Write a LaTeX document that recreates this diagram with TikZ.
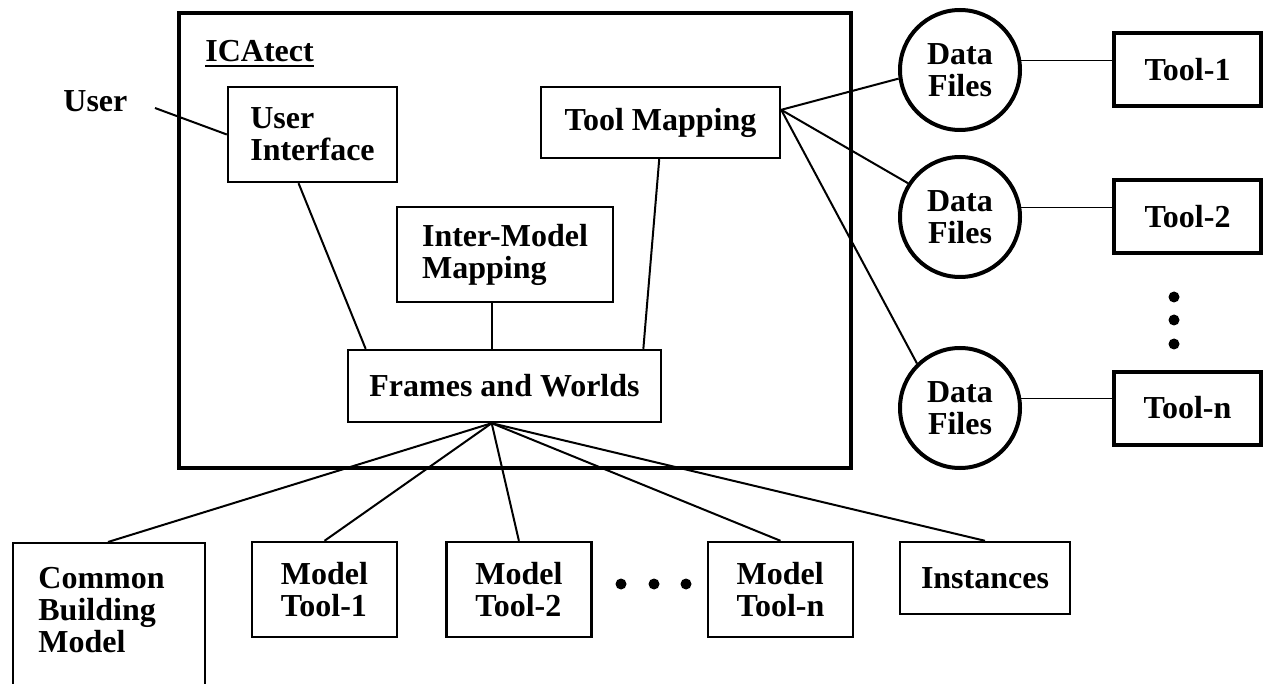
\documentclass[tikz,border=0pt]{standalone}
\usepackage{fontspec}
\setmainfont{Liberation Serif}
\usepackage{tikz}
\usetikzlibrary{positioning}
\tikzset{>=latex}
\tikzset{
  txt/.style={font=\fontsize{16}{16}\selectfont\bfseries},
  lbl/.style={txt, inner sep=0pt},
  box/.style={txt, draw, line width=1.2pt, inner sep=0pt, align=left},
  sysbox/.style={draw, line width=2.25pt, inner sep=0pt},
  modelbox/.style={box, minimum width=72.5pt, minimum height=47.5pt},
  toolbox/.style={box, line width=2pt, minimum width=73.5pt, minimum height=36.5pt},
  datafile/.style={txt, circle, draw, line width=2pt, minimum size=60pt, inner sep=0pt, align=center},
  link/.style={line width=1pt},
  thinlink/.style={line width=0.75pt},
  dot/.style={circle, fill, inner sep=0pt, minimum size=5.5pt},
}
\newcommand{\icaul}[1]{\vtop{\hbox{#1}\kern1.2pt\hrule height 1.3pt}}

\begin{document}
\begin{tikzpicture}[x=0.5pt,y=-0.5pt]
  \useasboundingbox (0,0) rectangle (1264,684);

  % ICAtect system
  \node[sysbox, minimum width=336pt, minimum height=227.5pt] (sys) at (515,240.5) {};
  \node[lbl, anchor=base west] (ica) at (205,62) {\icaul{ICAtect}};

  \node[lbl, anchor=base west]   (user) at (63,112) {User};
  \coordinate (userpt) at (155,108);

  \node[box, minimum width=84.5pt, minimum height=47.5pt]  (ui)  at (312.5,134.5) {User\\Interface};
  \node[box, minimum width=119.5pt, minimum height=35.5pt] (tm)  at (660.5,122.5) {Tool Mapping};
  \node[box, minimum width=108pt, minimum height=47.5pt]   (imm) at (505,254.5)   {Inter-Model\\Mapping};
  \node[box, minimum width=156.5pt, minimum height=36pt]   (fw)  at (504.5,386)   {Frames and Worlds};

  \coordinate (fwout) at (fw.251);
  \coordinate (tmout) at (tm.6);

  % Data files and tools
  \node[datafile] (df1) at (960,70)  {Data\\Files};
  \node[datafile] (df2) at (960,217) {Data\\Files};
  \node[datafile] (df3) at (960,408) {Data\\Files};

  \node[toolbox, right=45pt of df1] (t1) {Tool-1};
  \node[toolbox, right=45pt of df2] (t2) {Tool-2};
  \node[toolbox, right=45pt of df3] (tn) {Tool-n};

  \node[dot] (vd1) at (1174,297) {};
  \node[dot] (vd2) at (1174,320) {};
  \node[dot] (vd3) at (1174,344) {};

  % Models
  \node[box, anchor=north west, minimum width=96pt, minimum height=90pt] (cbm) at (12,542) {};
  \node[lbl, align=left, anchor=north west] (cbmtxt) at (38,567) {Common\\Building\\Model};
  \coordinate (cbmtop) at (108,542);

  \node[modelbox] (mt1) at (324.5,589.5) {Model\\Tool-1};
  \node[modelbox, right=23.5pt of mt1] (mt2) {Model\\Tool-2};
  \node[modelbox] (mtn) at (780.5,589.5) {Model\\Tool-n};
  \node[box, minimum width=85pt, minimum height=36pt] (inst) at (985,578) {Instances};

  \node[dot] (hd1) at (621,584) {};
  \node[dot] (hd2) at (654,584) {};
  \node[dot] (hd3) at (686,584) {};

  % Edges
  \draw[link] (userpt) -- (ui.west);
  \draw[link] (ui.254) -- (fw.165);
  \draw[link] (imm.south -| fwout) -- (fw.north -| fwout);
  \draw[link] (tm.268) -- (fw.15);

  \draw[link] (tmout) -- (df1.188);
  \draw[link] (tmout) -- (df2.147);
  \draw[link] (tmout) -- (df3.134);

  \draw[thinlink] (df1.9) -- (df1.9 -| t1.west);
  \draw[thinlink] (df2.9) -- (df2.9 -| t2.west);
  \draw[thinlink] (df3.9) -- (df3.9 -| tn.west);

  \draw[link] (fwout) -- (cbmtop);
  \draw[link] (fwout) -- (mt1.north);
  \draw[link] (fwout) -- (mt2.north);
  \draw[link] (fwout) -- (mtn.north);
  \draw[link] (fwout) -- (inst.north);

\end{tikzpicture}
\end{document}
